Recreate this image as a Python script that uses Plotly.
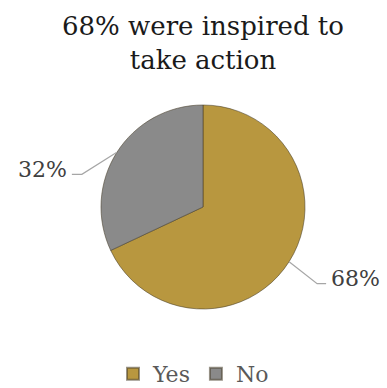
import math
import plotly.graph_objects as go

labels = ["Yes", "No"]
values = [68, 32]
colors = ["#B8973F", "#8A8A8A"]
title_text = "68% were inspired to<br>take action"

W, H = 387, 388
CX, CY, R = 203, 207, 102  # pie center / radius in pixels
FONT = "DejaVu Serif"

def paper(px, py):
    return px / W, 1 - py / H

fig = go.Figure(go.Pie(
    labels=labels, values=values, sort=False, direction="clockwise", rotation=0,
    marker=dict(colors=colors, line=dict(color="rgba(70,60,40,0.55)", width=1)),
    textinfo="none", hoverinfo="label+percent",
    domain=dict(x=[(CX - R) / W, (CX + R) / W], y=[1 - (CY + R) / H, 1 - (CY - R) / H]),
))

# leader lines + labels computed from slice midpoints
total = sum(values)
cum = 0
label_offsets = {"Yes": ((28, 22), 9, "left"), "No": ((-35, 22), -10, "right")}
shapes, annotations = [], []
for lab, v in zip(labels, values):
    mid = (cum + v / 2) / total * 2 * math.pi
    cum += v
    ex, ey = CX + R * math.sin(mid), CY - R * math.cos(mid)
    (dx, dy), hx, anchor = label_offsets[lab]
    bx, by = ex + dx, ey + dy
    tx = bx + hx
    p0, p1, p2 = paper(ex, ey), paper(bx, by), paper(tx, by)
    shapes.append(dict(type="path", xref="paper", yref="paper",
                       path=f"M {p0[0]},{p0[1]} L {p1[0]},{p1[1]} L {p2[0]},{p2[1]}",
                       line=dict(color="#A6A6A6", width=1.2)))
    pct = round(v / total * 100)
    lx, ly = paper(tx + (3 if anchor == "left" else -3), by - 5)
    annotations.append(dict(x=lx, y=ly, xref="paper", yref="paper", text=f"{pct}%",
                            showarrow=False, xanchor=anchor, yanchor="middle",
                            font=dict(family=FONT, size=22, color="#404040")))

tx_, ty_ = paper(203, 9)
annotations.append(dict(x=tx_, y=ty_, xref="paper", yref="paper", text=title_text,
                        showarrow=False, xanchor="center", yanchor="top",
                        font=dict(family=FONT, size=26, color="#1a1a1a")))

fig.update_layout(
    width=W, height=H,
    margin=dict(l=0, r=0, t=0, b=0, autoexpand=False),
    paper_bgcolor="white", plot_bgcolor="white",
    showlegend=True,
    legend=dict(orientation="h", x=0.5, xanchor="center", y=-0.018, yanchor="bottom",
                font=dict(family=FONT, size=22, color="#595959"),
                itemsizing="constant"),
    shapes=shapes, annotations=annotations,
)

fig.write_html("out.html")
